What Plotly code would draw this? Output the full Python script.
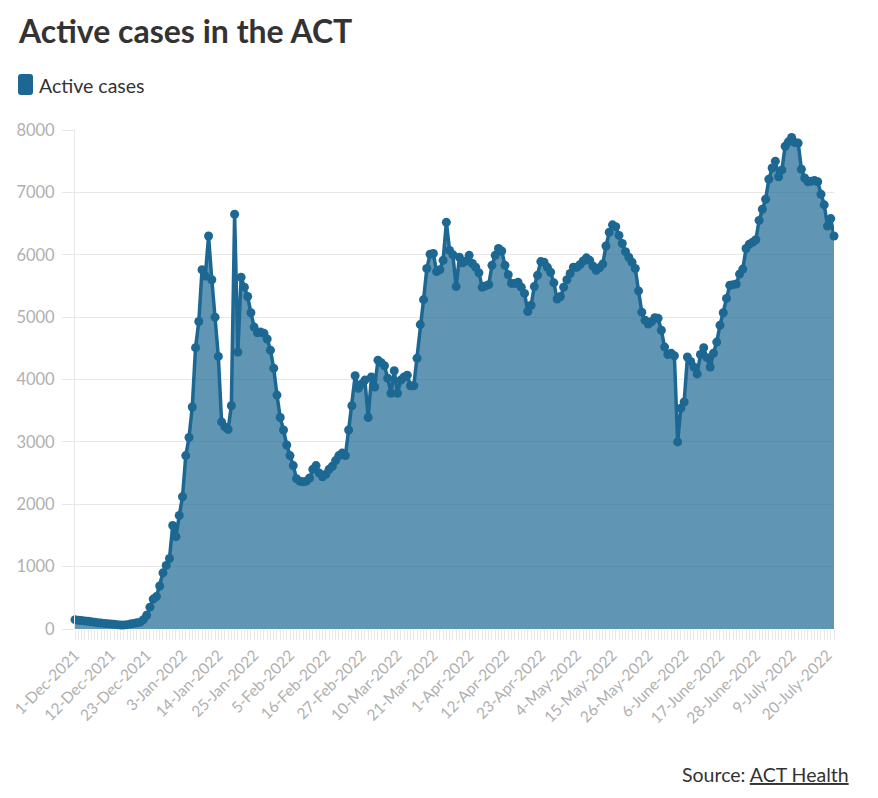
import pandas as pd
import plotly.graph_objects as go

start_date = "2021-12-01"

active_cases = [
    150, 140, 135, 130, 125, 115, 110, 100, 95, 90,
    85, 80, 75, 70, 65, 65, 70, 80, 90, 100,
    110, 150, 220, 350, 480, 520, 690, 900, 1020, 1130,
    1660, 1480, 1820, 2120, 2780, 3070, 3560, 4510, 4930, 5760,
    5660, 6300, 5600, 5000, 4370, 3320, 3240, 3200, 3580, 6650,
    4440, 5640, 5480, 5330, 5070, 4840, 4750, 4760, 4740, 4650,
    4470, 4180, 3750, 3390, 3190, 2950, 2780, 2620, 2410, 2370,
    2360, 2370, 2420, 2560, 2620, 2500, 2440, 2480, 2560, 2610,
    2700, 2780, 2820, 2780, 3190, 3580, 4060, 3860, 3930, 3990,
    3390, 4040, 3880, 4310, 4270, 4220, 4020, 3780, 4140, 3780,
    3990, 4040, 4070, 3900, 3900, 4340, 4880, 5280, 5780, 6010,
    6020, 5730, 5760, 5910, 6520, 6070, 6000, 5490, 5960, 5870,
    5900, 5990, 5860, 5800, 5710, 5480, 5500, 5520, 5830, 5990,
    6100, 6060, 5830, 5680, 5540, 5540, 5560, 5480, 5380, 5090,
    5190, 5490, 5670, 5890, 5880, 5800, 5720, 5550, 5290, 5330,
    5480, 5600, 5700, 5800, 5800, 5840, 5900, 5950, 5910, 5820,
    5750, 5790, 5850, 6140, 6360, 6480, 6450, 6310, 6180, 6050,
    5960, 5880, 5780, 5420, 5080, 4950, 4890, 4930, 4990, 4980,
    4790, 4520, 4400, 4420, 4380, 3000, 3540, 3640, 4360, 4290,
    4200, 4090, 4400, 4510, 4350, 4200, 4420, 4600, 4870, 5070,
    5300, 5510, 5520, 5530, 5690, 5770, 6100, 6170, 6200, 6240,
    6550, 6730, 6890, 7210, 7390, 7500, 7250, 7360, 7740, 7810,
    7880, 7800, 7790, 7370, 7230, 7170, 7180, 7190, 7170, 6970,
    6800, 6460, 6580, 6300,
]

tick_labels = [
    "1-Dec-2021", "12-Dec-2021", "23-Dec-2021", "3-Jan-2022", "14-Jan-2022",
    "25-Jan-2022", "5-Feb-2022", "16-Feb-2022", "27-Feb-2022", "10-Mar-2022",
    "21-Mar-2022", "1-Apr-2022", "12-Apr-2022", "23-Apr-2022", "4-May-2022",
    "15-May-2022", "26-May-2022", "6-June-2022", "17-June-2022", "28-June-2022",
    "9-July-2022", "20-July-2022",
]
y_ticks = [0, 1000, 2000, 3000, 4000, 5000, 6000, 7000, 8000]

dates = pd.date_range(start_date, periods=len(active_cases), freq="D")
tick_dates = [dates[i * 11] for i in range(len(tick_labels))]

LINE = "#1c6893"
FILL = "rgba(28,104,147,0.70)"
GRID = "#e8e8e8"
FONT = "Lato"

# plot area in pixels
L, R, T, B = 75, 834, 130, 629
W, H = 878, 798

def pxx(p):
    return (p - L) / (R - L)

def pxy(p):
    return (B - p) / (B - T)

fig = go.Figure()
fig.add_trace(go.Scatter(
    x=dates, y=active_cases, mode="lines+markers",
    line=dict(color=LINE, width=3.5),
    marker=dict(color=LINE, size=9),
    fill="tozeroy", fillcolor=FILL,
    cliponaxis=False, showlegend=False, name="Active cases",
))

fig.update_layout(
    width=W, height=H,
    margin=dict(l=L, r=W - R, t=T, b=H - B),
    paper_bgcolor="white", plot_bgcolor="white",
    font=dict(family=FONT, color="#333333"),
    xaxis=dict(
        type="date", range=[dates[0], dates[-1]],
        tickvals=tick_dates, ticktext=tick_labels, tickangle=-45,
        tickfont=dict(size=15.5, color="#b0b0b0", family=FONT),
        ticks="outside", ticklen=10, tickcolor=GRID,
        minor=dict(dtick=86400000, tick0=start_date, ticks="outside",
                   ticklen=10, tickcolor=GRID, showgrid=False),
        showgrid=False, zeroline=False, showline=False,
    ),
    yaxis=dict(
        range=[0, 8000], tickvals=y_ticks,
        tickfont=dict(size=16.5, color="#b0b0b0", family=FONT),
        ticks="outside", ticklen=12, tickcolor=GRID,
        ticklabelstandoff=4,
        showgrid=True, gridcolor=GRID, gridwidth=1,
        zeroline=False, showline=True, linecolor=GRID, linewidth=1,
    ),
)

# Title
fig.add_annotation(
    text="<b>Active cases in the ACT</b>", xref="paper", yref="paper",
    x=pxx(16), y=pxy(30), xanchor="left", yanchor="middle",
    showarrow=False, font=dict(size=32, color="#333333", family=FONT),
)

# Legend swatch (rounded) + label, defined in pixel space then mapped
x0p, x1p, y0p, y1p, rp = 18, 33, 74, 95, 3
def pt(px, py):
    return f"{pxx(px)},{pxy(py)}"
path = (
    f"M {pt(x0p + rp, y0p)} L {pt(x1p - rp, y0p)} Q {pt(x1p, y0p)} {pt(x1p, y0p + rp)} "
    f"L {pt(x1p, y1p - rp)} Q {pt(x1p, y1p)} {pt(x1p - rp, y1p)} "
    f"L {pt(x0p + rp, y1p)} Q {pt(x0p, y1p)} {pt(x0p, y1p - rp)} "
    f"L {pt(x0p, y0p + rp)} Q {pt(x0p, y0p)} {pt(x0p + rp, y0p)} Z"
)
fig.add_shape(
    type="path", xref="paper", yref="paper", path=path,
    fillcolor=LINE, line=dict(width=0),
)
fig.add_annotation(
    text="Active cases", xref="paper", yref="paper",
    x=pxx(37), y=pxy(85), xanchor="left", yanchor="middle",
    showarrow=False, font=dict(size=19.5, color="#333333", family=FONT),
)

# Source
fig.add_annotation(
    text="Source: <u>ACT Health</u>", xref="paper", yref="paper",
    x=pxx(851), y=pxy(774), xanchor="right", yanchor="middle",
    showarrow=False, font=dict(size=19.5, color="#333333", family=FONT),
)

fig.write_html("out.html")
